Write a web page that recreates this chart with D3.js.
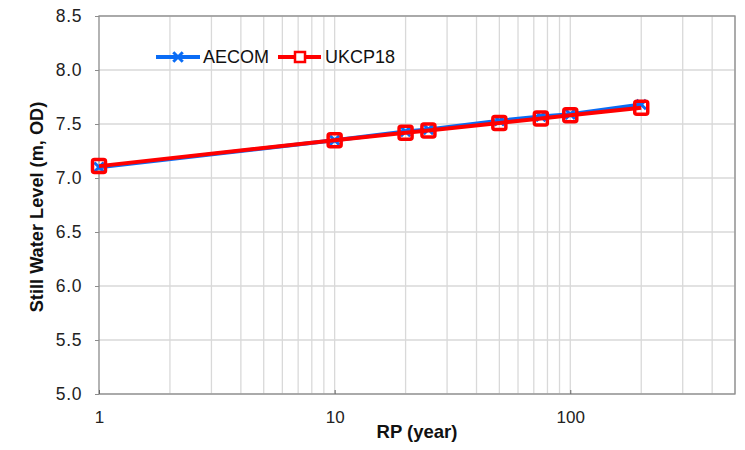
<!DOCTYPE html>
<html>
<head>
<meta charset="utf-8">
<script src="https://cdn.jsdelivr.net/npm/d3@7"></script>
<style>
  body { margin: 0; background: #fff; }
  svg { font-family: "Liberation Sans", Arial, sans-serif; }
</style>
</head>
<body>
<div id="chart"></div>
<script>
// return periods (years)
const rp = [1, 10, 20, 25, 50, 75, 100, 200];
// still water levels (m, OD)
const aecom = [7.10, 7.35, 7.43, 7.45, 7.53, 7.57, 7.59, 7.68];
const ukcp18 = [7.11, 7.35, 7.42, 7.44, 7.51, 7.55, 7.58, 7.65];
const yTicks = [5.0, 5.5, 6.0, 6.5, 7.0, 7.5, 8.0, 8.5];
const xTicks = [1, 10, 100];

const width = 745, height = 450;
const margin = {top: 16, right: 10, bottom: 56, left: 99};

const svg = d3.select("#chart").append("svg")
    .attr("width", width)
    .attr("height", height);

const x = d3.scaleLog().domain([1, 500]).range([margin.left, width - margin.right]);
const y = d3.scaleLinear().domain([5, 8.5]).range([height - margin.bottom, margin.top]);

// minor log gridlines
const gridX = [];
[1, 10, 100].forEach(d => {
    for (let k = 1; k <= 9; k++) {
        const v = d * k;
        if (v > 1 && v <= 500) gridX.push(v);
    }
});

const grid = svg.append("g");
grid.selectAll("line.gx")
    .data(gridX)
    .enter().append("line")
    .attr("x1", d => x(d)).attr("x2", d => x(d))
    .attr("y1", y(5)).attr("y2", y(8.5))
    .attr("stroke", "#d9d9d9")
    .attr("stroke-width", 1.3);
grid.selectAll("line.gy")
    .data(yTicks)
    .enter().append("line")
    .attr("x1", x(1)).attr("x2", x(500))
    .attr("y1", d => y(d)).attr("y2", d => y(d))
    .attr("stroke", "#d9d9d9")
    .attr("stroke-width", 1.3);

// frame
svg.append("rect")
    .attr("x", x(1)).attr("y", y(8.5))
    .attr("width", x(500) - x(1))
    .attr("height", y(5) - y(8.5))
    .attr("fill", "none")
    .attr("stroke", "#8c8c8c")
    .attr("stroke-width", 1.3);

// axes
const yAxis = svg.append("g")
    .attr("transform", `translate(${x(1)},0)`)
    .call(d3.axisLeft(y).tickValues(yTicks).tickFormat(d3.format(".1f")).tickSize(4).tickPadding(13));
yAxis.select(".domain").remove();
yAxis.selectAll("line").attr("stroke", "#8c8c8c");
yAxis.selectAll("text")
    .attr("font-size", 17.5)
    .attr("letter-spacing", 0.6)
    .attr("fill", "#222");

const xAxis = svg.append("g")
    .attr("transform", `translate(0,${y(5)})`)
    .call(d3.axisTop(x).tickValues(xTicks).tickFormat(d3.format("d")).tickSize(4));
xAxis.select(".domain").remove();
xAxis.selectAll("line").attr("stroke", "#666");
xAxis.selectAll("text")
    .attr("y", 23)
    .attr("dy", "0.35em")
    .attr("font-size", 17)
    .attr("fill", "#222");

// axis titles
svg.append("text")
    .attr("x", 417)
    .attr("y", 438)
    .attr("text-anchor", "middle")
    .attr("font-size", 18.5)
    .attr("font-weight", "bold")
    .attr("fill", "#111")
    .text("RP (year)");

svg.append("text")
    .attr("transform", `translate(43,207) rotate(-90)`)
    .attr("text-anchor", "middle")
    .attr("font-size", 18.2)
    .attr("font-weight", "bold")
    .attr("fill", "#111")
    .text("Still Water Level (m, OD)");

const line = d3.line().x(d => x(d[0])).y(d => y(d[1]));
const aecomPts = rp.map((d, i) => [d, aecom[i]]);
const ukcpPts = rp.map((d, i) => [d, ukcp18[i]]);

const blue = "#0a6cf5", red = "#ff0000";

// AECOM series
svg.append("path")
    .datum(aecomPts)
    .attr("d", line)
    .attr("fill", "none")
    .attr("stroke", blue)
    .attr("stroke-width", 4);

const cross = d3.symbol().type(d3.symbolX).size(60);
svg.selectAll("path.am")
    .data(aecomPts)
    .enter().append("path")
    .attr("class", "am")
    .attr("transform", d => `translate(${x(d[0])},${y(d[1])})`)
    .attr("d", cross)
    .attr("stroke", blue)
    .attr("stroke-width", 3);

// UKCP18 series
svg.append("path")
    .datum(ukcpPts)
    .attr("d", line)
    .attr("fill", "none")
    .attr("stroke", red)
    .attr("stroke-width", 4);

svg.selectAll("rect.um")
    .data(ukcpPts)
    .enter().append("rect")
    .attr("class", "um")
    .attr("x", d => x(d[0]) - 6.5)
    .attr("y", d => y(d[1]) - 6.5)
    .attr("width", 13).attr("height", 13)
    .attr("rx", 2)
    .attr("fill", "none")
    .attr("stroke", red)
    .attr("stroke-width", 3.5);

// legend
const legend = svg.append("g").attr("transform", "translate(156,57)");
legend.append("line")
    .attr("x1", 0).attr("x2", 44)
    .attr("stroke", blue).attr("stroke-width", 4);
legend.append("path")
    .attr("transform", "translate(22,0)")
    .attr("d", cross)
    .attr("stroke", blue).attr("stroke-width", 3);
legend.append("text")
    .attr("x", 47).attr("dy", "0.35em")
    .attr("font-size", 18).attr("fill", "#111")
    .text("AECOM");

legend.append("line")
    .attr("x1", 122).attr("x2", 165)
    .attr("stroke", red).attr("stroke-width", 4);
legend.append("rect")
    .attr("x", 139).attr("y", -5)
    .attr("width", 10).attr("height", 10)
    .attr("fill", "#fff")
    .attr("stroke", red).attr("stroke-width", 2.5);
legend.append("text")
    .attr("x", 169).attr("dy", "0.35em")
    .attr("font-size", 18).attr("fill", "#111")
    .text("UKCP18");
</script>
</body>
</html>
